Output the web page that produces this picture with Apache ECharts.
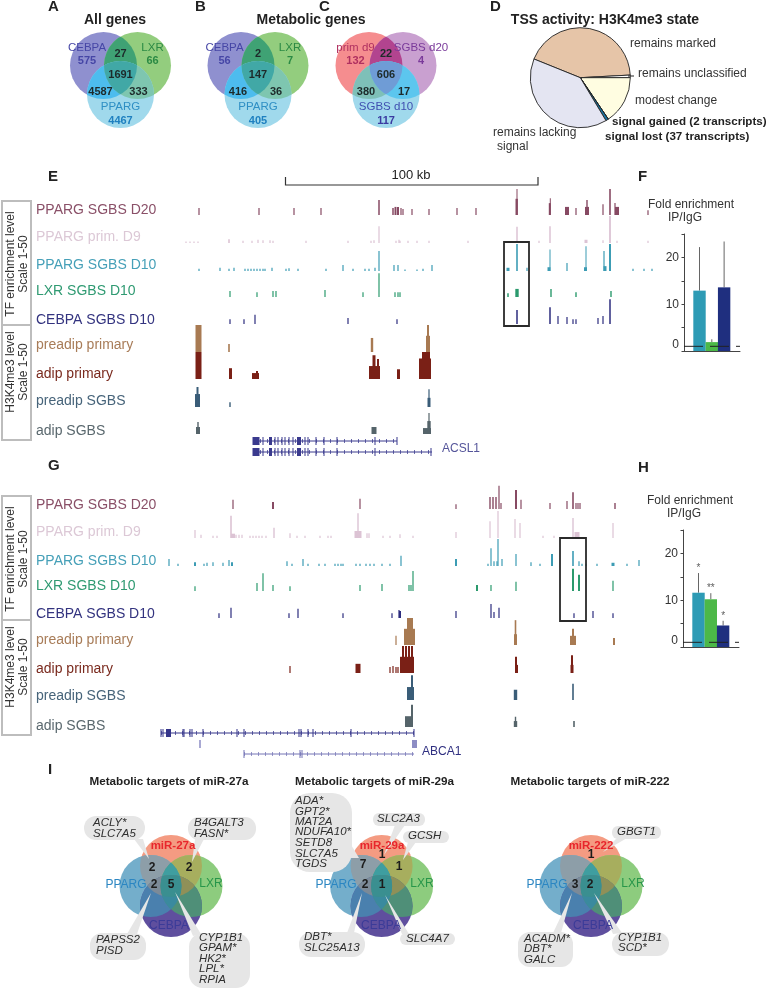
<!DOCTYPE html>
<html><head><meta charset="utf-8">
<style>html,body{margin:0;padding:0;background:#fff}#c{width:766px;height:989px}</style>
<script src="https://cdn.jsdelivr.net/npm/echarts@6/dist/echarts.min.js"></script>
</head><body><div id="c"></div>
<script>
// ---------- DATA ----------
const vennAllGenes = {CEBPA:575, LXR:66, PPARG:4467, CL:27, CP:4587, LP:333, CLP:1691};
const vennMetabolic = {CEBPA:56, LXR:7, PPARG:405, CL:2, CP:416, LP:36, CLP:147};
const vennCell = {CEBPA:132, LXR:4, PPARG:117, CL:22, CP:380, LP:17, CLP:606};
const pieNames = ['remains marked','remains unclassified','modest change','signal gained (2 transcripts)','signal lost (37 transcripts)','remains lacking signal'];
const pieValues = [1903,37,687,2,37,1755];
const trackNames = ['PPARG SGBS D20','PPARG prim. D9','PPARG SGBS D10','LXR SGBS D10','CEBPA SGBS D10','preadip primary','adip primary','preadip SGBS','adip SGBS'];
const foldTicks = [0,10,20];
const foldF = [12.9,1.9,13.6];
const foldFErr = [22.2,2.5,23.4];
const foldH = [11.6,10.2,4.6];
const foldHErr = [15.8,11.5,5.6];
const foldHStars = ['*','**','*'];
const foldThreshold = 1;
// peaks: [locus position, signal 0-50, optional width]
const eD20 = [[199,13],[259,13],[294,13],[321,13],[379,28,1.5],[393,13,1.5],[395.5,15,2],[398,15,2],[401,13],[403,11],[412,11],[429,11],[457,13],[476,13],[516.7,30,2.4],[517,48,1],[549.8,22,2],[550.3,31,1],[567,15,4],[576,13],[587,15,4],[587,28,1.4],[603,20],[610,48,1.6],[617,15,4],[615,22],[648,9]];
const eD9 = [[186,3],[190,3],[194,3],[198,3],[229,7,1.6],[243,4],[252,4],[258,6],[263,5],[270,5],[273,4],[306,4],[348,4],[371,4],[374,5],[379,31],[396,4],[399,6],[400,4],[408,4],[417,4],[429,4],[468,4],[517,30,1.5],[539,4],[550,31,1.5],[586,6,3],[603,5],[610,50,1.8],[617,4],[648,4]];
const eD10 = [[199,4],[220,6],[229,4],[234,6],[245,4],[248,4],[251,4],[254,4],[257,4],[260,4],[263,4],[265,4],[272,6],[286,4],[289,5],[298,4],[326,4],[343,11],[353,4],[365,4],[369,4],[375,6],[379,37],[394,11],[398,11],[405,3],[417,3],[423,4],[432,11],[508,6,3],[517,50,1.6],[527,6],[549,7,3],[550,40,1],[567,15],[585.5,7,3],[586,46,1],[604,37,1.2],[605,9,3],[610,50,2],[633,4],[644,4],[652,4]];
const eLXR = [[230,11],[257,9],[273,11],[276,11],[325,13],[363,9],[379,44],[395,9],[398,9],[400,9],[508,7,1.5],[517,15,3.4],[551,15,1.4],[576,9,1.4],[611,11,1.4]];
const eCEBPA = [[230,9],[244,9],[255,17],[348,11],[397,9],[517,26,1.5],[550,31,1.5],[558,15],[567,13],[573,9],[576,9],[598,11],[603,15],[610,46,1.5]];
const ePreP = [[198.5,50,6],[229,15,1.6],[372,26,2.4],[428,50,2],[428,30,4]];
const eAdipP = [[198.5,50,6],[230.5,20,3],[255.5,11,7],[257,15,2],[374.5,24,11],[374,44,3],[378,37,2],[398.5,18,3],[425,38,12],[426,50,8]];
const ePreS = [[197.5,24,5],[197.5,37,2],[230,9,1.4],[429,17,3],[429,33,1.2]];
const eAdipS = [[198,13,4],[198,22,1.4],[374,13,5],[427,11,8],[429,24,3.4],[429,39,1.2]];
const gD20 = [[233,17],[273,13,2],[360,19],[456,9],[490,22,1.4],[493,22,1.4],[496,22,1.4],[499,43],[501,11],[516,35,2],[521,17],[550,11],[567,15],[573,31,1.6],[576,11],[578,11],[580,11],[615,11,1.4]];
const gD9 = [[195,15],[201,6],[213,4],[217,4],[231,41,1.6],[233,8,4],[236,6],[239,6],[242,6],[250,4],[253,4],[256,4],[259,4],[262,4],[266,4],[274,19,1.4],[290,9],[297,4],[305,4],[320,4],[328,4],[331,4],[358,46,1.4],[358,13,7],[367,9],[369,9],[383,4],[390,4],[400,7],[413,4],[456,11],[490,31],[498,50],[515,35],[520,28],[543,4],[554,4],[573,37,1.4],[577,11,5],[613,28]];
const gD10 = [[169,13],[178,4],[195,7,2],[204,4],[207,6],[213,7],[223,6],[229,11],[232,7,2],[287,9],[292,4],[303,13],[308,4],[319,4],[325,4],[335,4],[338,4],[341,4],[343,4],[356,4],[360,4],[366,4],[370,4],[374,4],[382,4],[390,4],[401,19],[456,13,2],[488,4],[491,33],[494,9],[497,9],[498,50],[502,13],[516,22],[531,7],[540,4],[552,22,2],[573,28,1.6],[579,9],[582,4],[586,4],[597,4],[613,6,3],[627,4],[639,11]];
const gLXR = [[195,9],[257,15],[263,33],[273,11],[290,9],[360,11],[382,13],[409,11],[411,11],[413,37],[477,11,2],[491,11],[516,17],[573,41,2],[579,30,2],[613,19]];
const gCEBPA = [[219,9],[231,19],[289,9],[298,17],[343,9],[392,9],[399,15],[400,13,2],[456,13],[491,26],[494,11],[499,19],[574,9],[593,13],[613,9]];
const gPreP = [[396,17],[409.5,30,11],[410,50,6],[515.5,46,1.6],[515.5,20,3],[573,30,2],[573,17,6],[614,13,2]];
const gAdipP = [[390,11],[393,13],[396,11],[398,11],[290,13],[358,17,5],[407,30,14],[403,50,2],[406,50,2],[409,50,2],[412,50,2],[516,30,2],[516.5,15,3],[572,33,2],[572,15,3]];
const gPreS = [[410.5,24,7],[412,46,2],[515.5,19,3.4],[573,30,1.6]];
const gAdipS = [[409,20,8],[412,41,2],[515.5,19,1.4],[515.5,11,3.4],[574,11,1.6]];
const geneA1 = [[256,7],[263,1],[270.5,3],[275,1],[278,1],[282,1],[285,1],[289,1],[293,1],[299,4],[305,1],[308,1],[316,1],[324,1],[337,1],[375,1],[397,1]];
const geneA2 = [[256,7],[263,1],[270.5,3],[275,1],[278,1],[282,1],[285,1],[289,1],[293,1],[299,4],[305,1],[308,1],[316,1],[324,1],[337,1],[375,1],[431,1]];
const geneG1 = [[161,1],[163,1],[168.5,5],[183,1],[184,1],[190,1],[192,1],[203,1],[237,1],[244,1],[299,1],[301,1],[308,1],[313,1],[351,1],[414,1]];
const geneG2 = [[200,1.5],[412.5,1],[415,4]];
const geneG3 = [[244,1],[300,1],[302,1]];
const miRTitles = ['Metabolic targets of miR-27a','Metabolic targets of miR-29a','Metabolic targets of miR-222'];
const miRNames = ['miR-27a','miR-29a','miR-222'];
const genesACLY = ['ACLY*','SLC7A5'];
const genesB4 = ['B4GALT3','FASN*'];
const genesPAPSS = ['PAPSS2','PISD'];
const genesCYP5 = ['CYP1B1','GPAM*','HK2*','LPL*','RPIA'];
const genesADA = ['ADA*','GPT2*','MAT2A','NDUFA10*','SETD8','SLC7A5','TGDS'];
const genesDBT = ['DBT*','SLC25A13'];
const genesSLC2 = ['SLC2A3'];
const genesGCSH = ['GCSH'];
const genesSLC4 = ['SLC4A7'];
const genesGBGT = ['GBGT1'];
const genesACADM = ['ACADM*','DBT*','GALC'];
const genesCYP2 = ['CYP1B1','SCD*'];
const counts27 = [2,2,2,5];
const counts29 = [7,2,1,1,1];
const counts222 = [1,3,2];

// ---------- LAYOUT / STYLE ----------
const F = '"Liberation Sans"';
const trackColors = ['#874a63','#dcc3d4','#3c9cb4','#2b9a6d','#2c2c7e','#a87a52','#7a2016','#3a5d78','#55646a'];
const labelColors = ['#8a5068','#dcc8d6','#46a0b8','#2f9a72','#33337f','#a87c58','#7a2a1e','#47647a','#5a686e'];
const eBase = [215,243,271,297,324,352,379,407,434];
const gBase = [509,538,566,591,618,645,673,700,727];
const eLabelY = [210,237,265,291,320,345,374,401,431];
const gLabelY = [505,532,561,586,614,640,669,696,726];
const trackH = 27;
const eTracks = [eD20,eD9,eD10,eLXR,eCEBPA,ePreP,eAdipP,ePreS,eAdipS];
const gTracks = [gD20,gD9,gD10,gLXR,gCEBPA,gPreP,gAdipP,gPreS,gAdipS];

const els = [], grids = [], xAxes = [], yAxes = [], series = [];
function t(x,y,text,font,fill,align,extra){
  els.push(Object.assign({type:'text',x:x,y:y,z:100,silent:true,style:{text:String(text),font:font,fill:fill||'#222',align:align||'left',verticalAlign:'middle',textAlign:align||'left',textVerticalAlign:'middle'}},extra||{}));
}
function addGrid(left,top,w,h,xa,ya){
  grids.push({left:left,top:top,width:w,height:h,containLabel:false,show:false});
  const i = grids.length-1;
  xAxes.push(Object.assign({gridIndex:i,type:'value',show:false,scale:true},xa));
  yAxes.push(Object.assign({gridIndex:i,type:'value',show:false,scale:true},ya));
  return i;
}
function rectSeries(i,data,color,z){
  series.push({type:'custom',xAxisIndex:i,yAxisIndex:i,clip:false,z:z||3,silent:true,animation:false,
    encode:{x:0,y:1},
    data:data.map(p=>[p[0],p[1],p[2]||1.2]),
    renderItem:(params,api)=>{
      const x=api.value(0),h=api.value(1),w=api.value(2);
      const a=api.coord([x-w/2,0]),b=api.coord([x+w/2,h]);
      return {type:'rect',shape:{x:a[0],y:b[1],width:b[0]-a[0],height:a[1]-b[1]},style:{fill:color}};
    }});
}
function tracks(data,base){
  data.forEach((d,k)=>{
    const i=addGrid(0,base[k]-trackH,766,trackH,{min:0,max:766},{min:0,max:50});
    rectSeries(i,d,trackColors[k]);
  });
}
tracks(eTracks,eBase); tracks(gTracks,gBase);
trackNames.forEach((n,k)=>{
  t(36,eLabelY[k],n,'14px '+F,labelColors[k]);
  t(36,gLabelY[k],n,'14px '+F,labelColors[k]);
});

// gene models
function gene(y,from,to,exons,color){
  const i=addGrid(0,y-4,766,8,{min:0,max:766},{min:0,max:1});
  if(from!==null){
    series.push({type:'line',xAxisIndex:i,yAxisIndex:i,symbol:'none',silent:true,animation:false,z:2,
      data:[[from,.5],[to,.5]],lineStyle:{color:color,width:1}});
    series.push({type:'line',xAxisIndex:i,yAxisIndex:i,symbol:'none',silent:true,animation:false,z:2,
      data:[[from,.5],[to,.5]],lineStyle:{color:color,width:4,type:[1,6],opacity:.75}});
  }
  rectSeries(i,exons.map(e=>[e[0],1,e[1]]),color,3);
}
gene(441,253,397,geneA1,'#3a3a8e');
gene(452,253,432,geneA2,'#3a3a8e');
gene(733,161,414,geneG1,'#35358a');
gene(744,null,null,geneG2,'#8d8dc4');
gene(754,244,414,geneG3,'#7575b5');
t(442,449,'ACSL1','12px '+F,'#55559a');
t(422,752,'ABCA1','12px '+F,'#2f2f80');

// side boxes
function sideBox(top,mid,bot,c1,c2){
  els.push({type:'rect',z:10,silent:true,shape:{x:2,y:top,width:29,height:mid-top},style:{fill:'none',stroke:'#bdbdbd',lineWidth:2}});
  els.push({type:'rect',z:10,silent:true,shape:{x:2,y:mid,width:29,height:bot-mid},style:{fill:'none',stroke:'#bdbdbd',lineWidth:2}});
  const R={rotation:Math.PI/2};
  t(11,c1,'TF enrichment level','12px '+F,'#333','center',R);
  t(24,c1,'Scale 1-50','12px '+F,'#333','center',R);
  t(11,c2,'H3K4me3 level','12px '+F,'#333','center',R);
  t(24,c2,'Scale 1-50','12px '+F,'#333','center',R);
}
sideBox(201,325,440,264,372);
sideBox(496,620,735,559,667);

// highlight boxes & scale bar
[[504,242,25,84],[560,538,26,83]].forEach(r=>els.push({type:'rect',z:20,silent:true,shape:{x:r[0],y:r[1],width:r[2],height:r[3]},style:{fill:'none',stroke:'#2a2a2a',lineWidth:1.8}}));
els.push({type:'polyline',z:20,silent:true,shape:{points:[[285.5,177],[285.5,185],[538,185],[538,177]]},style:{fill:'none',stroke:'#333',lineWidth:1.2}});
t(411,175,'100 kb','13px '+F,'#222','center');

// panel letters
[['A',48,7],['B',195,7],['C',319,7],['D',490,7],['E',48,177],['F',638,177],['G',48,466],['H',638,468],['I',48,770]].forEach(p=>t(p[1],p[2],p[0],'bold 15px '+F,'#222'));
t(115,20,'All genes','bold 14px '+F,'#222','center');
t(311,20,'Metabolic genes','bold 14px '+F,'#222','center');
t(605,20,'TSS activity: H3K4me3 state','bold 14px '+F,'#222','center');

// generic region Venn
function popc(m){let c=0;while(m){c+=m&1;m>>=1;}return c;}
function vennSeries(i,circles,r,colors){
  // colors: keyed by bitmask of circles, painted from single sets to the full overlap
  const masks=Object.keys(colors).map(Number).sort((a,b)=>popc(a)-popc(b));
  series.push({type:'custom',xAxisIndex:i,yAxisIndex:i,clip:false,z:2,silent:true,animation:false,
    data:[[0,0]],encode:{x:0,y:1},
    renderItem:(params,api)=>{
      const R=api.size([r,0])[0];
      const shapes=circles.map(c=>{const p=api.coord(c);return {cx:p[0],cy:p[1],r:R};});
      const children=masks.map(m=>{
        const idx=[];shapes.forEach((s,k)=>{if(m&(1<<k))idx.push(k);});
        let el={type:'circle',shape:shapes[idx[0]],style:{fill:colors[m]}};
        idx.slice(1).forEach(k=>{
          el={type:'group',children:[el],clipPath:{type:'circle',shape:shapes[k]}};
        });
        return el;
      });
      return {type:'group',children:children};
    }});
}
const threeGeom=[[-17,-14.5],[17,-14.5],[0,14.5]];
function venn3(cx,data,names,colors,tc,labelShift){
  const i=addGrid(cx-60,80-60,120,120,{min:-60,max:60},{min:-60,max:60,inverse:true});
  vennSeries(i,threeGeom,33.5,colors);
  const L='11.5px '+F,B='bold 11px '+F,d='#1d2a2a',s=labelShift||[0,0,0];
  t(cx-33.5+s[0],48,names[0],L,tc[0],'center');
  t(cx-33.5+s[0],61,data.CEBPA,B,tc[0],'center');
  t(cx+32+s[1],48,names[1],L,tc[1],'center');
  t(cx+32+s[1],61,data.LXR,B,tc[1],'center');
  t(cx,107,names[2],L,tc[2],'center');
  t(cx,121,data.PPARG,B,tc[3],'center');
  t(cx,54,data.CL,B,d,'center');
  t(cx,75,data.CLP,B,d,'center');
  t(cx-20,92,data.CP,B,d,'center');
  t(cx+18,92,data.LP,B,d,'center');
}
const colABC={1:'#8f90cf',2:'#93cd7e',4:'#a0d9ec',3:'#3fa274',5:'#4dbcee',6:'#7ec6b0',7:'#41a8a6'};
venn3(120.5,vennAllGenes,['CEBPA','LXR','PPARG'],colABC,['#4646a6','#2b8a44','#2f8fc4','#1f80c0']);
venn3(258,vennMetabolic,['CEBPA','LXR','PPARG'],colABC,['#4646a6','#2b8a44','#2f8fc4','#1f80c0']);
venn3(386,vennCell,['prim d9','SGBS d20','SGBS d10'],
  {1:'#f58d8f',2:'#c9a0d0',4:'#a0d9ec',3:'#b2448f',5:'#7ec0b8',6:'#5cc6ee',7:'#6f9cd6'},
  ['#b03060','#7a3a9a','#3f4fb0','#3a3aa0'],[3,3,0]);

// pie
series.push({type:'pie',center:[580.3,77.7],radius:[0,50],startAngle:158,clockwise:true,silent:true,animation:false,
  minAngle:0,avoidLabelOverlap:false,label:{show:false},labelLine:{show:false},
  itemStyle:{borderColor:'#222',borderWidth:.9},
  data:pieNames.map((n,k)=>({name:n,value:pieValues[k],itemStyle:{color:['#e6c5a8','#ffffff','#fffde1','#222222','#1679a8','#e4e5f2'][k]}}))});
const P='12px '+F,PB='bold 11.6px '+F;
t(630,44,pieNames[0],P,'#333');
t(638,74,pieNames[1],P,'#333');
t(635,101,pieNames[2],P,'#333');
t(612,122,pieNames[3],PB,'#222');
t(605,137,pieNames[4],PB,'#222');
t(493,133,'remains lacking',P,'#333');
t(497,147,'signal',P,'#333');
els.push({type:'line',z:20,silent:true,shape:{x1:628,y1:76,x2:634,y2:76},style:{stroke:'#222',lineWidth:1}});

// fold-enrichment bars
function foldChart(left,top,vals,errs,stars){
  const i=addGrid(left,top,56,117,{min:-0.26,max:4.29},{min:0,max:25,interval:5});
  xAxes[i]={gridIndex:i,type:'value',min:-0.26,max:4.29,show:true,splitLine:{show:false},axisTick:{show:false},axisLabel:{show:false},axisLine:{show:true,onZero:false,lineStyle:{color:'#444',width:1}}};
  yAxes[i]={gridIndex:i,type:'value',min:0,max:25,interval:5,show:true,splitLine:{show:false},
    axisLine:{show:true,onZero:false,lineStyle:{color:'#444',width:1}},axisTick:{show:true,length:2.5,lineStyle:{color:'#444'}},
    axisLabel:{show:true,color:'#333',fontFamily:'Liberation Sans',fontSize:12,margin:5,verticalAlignMinLabel:'bottom',
      formatter:v=>foldTicks.indexOf(v)>=0?String(v):''}};
  const cols=['#2e9bb5','#4cb848','#1f2f7f'];
  series.push({type:'bar',xAxisIndex:i,yAxisIndex:i,barWidth:12.4,silent:true,animation:false,z:3,
    data:vals.map((v,k)=>({value:[k+1,v],itemStyle:{color:cols[k]}}))});
  series.push({type:'custom',xAxisIndex:i,yAxisIndex:i,clip:false,z:2,silent:true,animation:false,
    encode:{x:0,y:2},data:vals.map((v,k)=>[k+1,v,errs[k]]),
    renderItem:(p,api)=>{
      const a=api.coord([api.value(0),api.value(1)]),b=api.coord([api.value(0),api.value(2)]);
      return {type:'line',shape:{x1:a[0],y1:a[1],x2:b[0],y2:b[1]},style:{stroke:'#666',lineWidth:1}};
    }});
  series.push({type:'line',xAxisIndex:i,yAxisIndex:i,symbol:'none',silent:true,animation:false,z:4,
    data:[[-0.26,foldThreshold],[4.29,foldThreshold]],lineStyle:{color:'#222',width:1,type:[19,7]}});
  if(stars) series.push({type:'scatter',xAxisIndex:i,yAxisIndex:i,symbolSize:0,silent:true,animation:false,z:5,
    data:errs.map((e,k)=>[k+1,e]),
    label:{show:true,position:'top',distance:0,fontSize:10,fontFamily:'Liberation Sans',color:'#333',formatter:p=>stars[p.dataIndex]}});
}
foldChart(684,234,foldF,foldFErr,null);
foldChart(683,530,foldH,foldHErr,foldHStars);
t(691,205,'Fold enrichment','12px '+F,'#333','center');
t(685,218,'IP/IgG','12px '+F,'#333','center');
t(690,501,'Fold enrichment','12px '+F,'#333','center');
t(684,514,'IP/IgG','12px '+F,'#333','center');

// panel I venns
const miRGeom=[[0,-20],[-20.5,0],[20.5,0],[0,20]];
const colMiR={1:'#f49b82',2:'#74aecb',4:'#8dcc7e',8:'#5f4f9e',3:'#8d9ea8',5:'#a7ae5e',9:'#8e6f80',6:'#3f9ea0',10:'#4a80ae',12:'#4f8f78',
  7:'#3f9ea0',11:'#7c8a98',13:'#8f9058',14:'#3a8a9e',15:'#3a8f90'};
[171,381.6,591].forEach((cx,k)=>{
  const i=addGrid(cx-60,886-60,120,120,{min:-60,max:60},{min:-60,max:60,inverse:true});
  vennSeries(i,miRGeom,31,colMiR);
});
const nameX=[[126,211,169,173],[336,422,381,382],[547,633,593,591]];
[0,1,2].forEach(k=>{
  const n=nameX[k];
  t([169,374.5,590][k],782,miRTitles[k],'bold 11.7px '+F,'#222','center');
  t(n[3],846,miRNames[k],'bold 11.5px '+F,'#e8262c','center');
  t(n[0],885,'PPARG','12px '+F,'#2b86c2','center');
  t(n[1],884,'LXR','12px '+F,'#27964a','center');
  t(n[2],926,'CEBPA','12px '+F,'#3b3b98','center');
});
const numF='bold 12px '+F;
[[152,868],[189,868],[154,885],[171,885]].forEach((p,k)=>t(p[0],p[1],counts27[k],numF,'#1c1c1c','center'));
[[363,865],[365,885],[382,885],[382,855],[399,867]].forEach((p,k)=>t(p[0],p[1],counts29[k],numF,'#1c1c1c','center'));
[[591,855],[575,885],[590,885]].forEach((p,k)=>t(p[0],p[1],counts222[k],numF,'#1c1c1c','center'));

function bubble(rc,r,poly,tx,ys,genes){
  els.push({type:'polygon',z:50,silent:true,shape:{points:poly},style:{fill:'#e6e6e6'}});
  els.push({type:'rect',z:50,silent:true,shape:{x:rc[0],y:rc[1],width:rc[2]-rc[0],height:rc[3]-rc[1],r:r},style:{fill:'#e6e6e6'}});
  genes.forEach((g,k)=>t(tx,ys[k],g,'italic 11.5px '+F,'#2e2e2e'));
}
bubble([84,816,145,840],12,[[134,839],[143,839],[149,859]],93,[823,834],genesACLY);
bubble([188,817,256,840],11,[[195,839],[204,839],[192,862]],194,[823,834],genesB4);
bubble([90,933,146,960],12,[[127,934],[137,934],[151,893]],96,[940,951],genesPAPSS);
bubble([189,933,250,988],14,[[193,936],[201,934],[175,892]],199,[938,948,959,969,980],genesCYP5);
bubble([290,793,352,872],20,[[350,843],[350,858],[359,858]],295,[801,812,822,832,843,854,864],genesADA);
bubble([299,932,365,957],12,[[347,933],[354,933],[362,893]],304,[937,948],genesDBT);
bubble([373,813,425,826],6,[[395,825],[405,825],[384,855]],377,[819],genesSLC2);
bubble([403,831,449,843],6,[[408,842],[416,842],[403,860]],408,[836],genesGCSH);
bubble([400,933,455,945],6,[[402,934],[409,934],[385,895]],406,[939],genesSLC4);
bubble([612,826,661,839],6,[[617,838],[627,838],[603,852]],617,[832],genesGBGT);
bubble([518,932,573,967],12,[[553,933],[561,933],[572,893]],524,[939,949,960],genesACADM);
bubble([612,932,669,956],12,[[613,934],[622,933],[594,893]],618,[938,948],genesCYP2);

const chart=echarts.init(document.getElementById('c'),null,{renderer:'canvas',width:766,height:989});
chart.setOption({backgroundColor:'#fff',animation:false,tooltip:{show:false},legend:{show:false},
  grid:grids,xAxis:xAxes,yAxis:yAxes,series:series,graphic:{elements:els}});
</script></body></html>
